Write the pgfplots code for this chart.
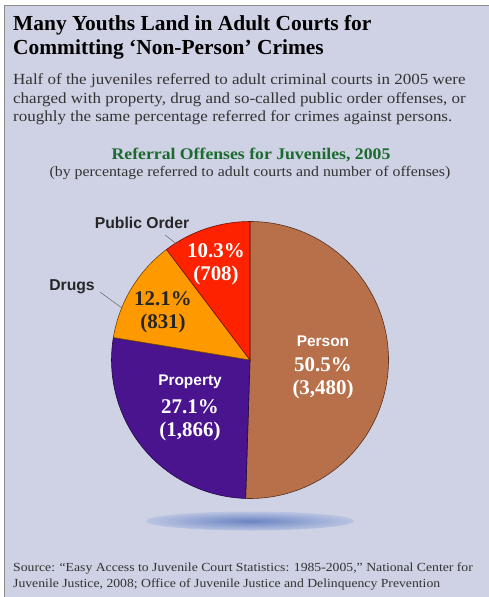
\documentclass[border=0pt]{standalone}
\usepackage{pgfplots}
\pgfplotsset{compat=1.18}
\usepackage{pgfplotstable}
\usepackage{fontspec}
\setmainfont{Liberation Serif}
\newfontfamily\labelsans{Liberation Sans}
\definecolor{bg}{HTML}{CED2E4}
\definecolor{slice0}{HTML}{B8704A}
\definecolor{slice1}{HTML}{4A148E}
\definecolor{slice2}{HTML}{FF9900}
\definecolor{slice3}{HTML}{FF2200}
\definecolor{ttlgreen}{HTML}{1B6B2E}
\definecolor{txt}{HTML}{333333}
\definecolor{shadein}{HTML}{6A84C2}
\definecolor{shadeout}{HTML}{BAC4E2}
\pgfplotstableread{
label pct count
Person 50.5 3480
Property 27.1 1866
Drugs 12.1 831
PublicOrder 10.3 708
}\piedata
\newcommand\para[1]{\scalebox{1.10}[1]{#1}}
\begin{document}
\begin{tikzpicture}[x=1bp,y=1bp]
\useasboundingbox (0,0) rectangle (489,-597);
\fill[white] (0,0) rectangle (489,-597);
\fill[bg] (4,-5) rectangle (489,-597);
\draw[black!45,line width=1.2bp] (4.5,-597) -- (4.5,-5.5) -- (489,-5.5);
% shadow
\shade[inner color=shadein, outer color=shadeout] (250,-521) ellipse [x radius=104, y radius=9.5];
% titles
\node[anchor=base west,font=\fontsize{21.5}{24}\selectfont\bfseries,inner sep=0] at (13,-31) {Many Youths Land in Adult Courts for};
\node[anchor=base west,font=\fontsize{21.5}{24}\selectfont\bfseries,inner sep=0] at (13,-55) {Committing ‘Non-Person’ Crimes};
\node[anchor=base west,font=\fontsize{15.5}{16}\selectfont,text=txt,inner sep=0] at (13,-85) {\para{Half of the juveniles referred to adult criminal courts in 2005 were}};
\node[anchor=base west,font=\fontsize{15.5}{16}\selectfont,text=txt,inner sep=0] at (13,-103.5) {\para{charged with property, drug and so-called public order offenses, or}};
\node[anchor=base west,font=\fontsize{15.5}{16}\selectfont,text=txt,inner sep=0] at (13,-122) {\para{roughly the same percentage referred for crimes against persons.}};
\node[anchor=base,font=\fontsize{16.3}{16}\selectfont\bfseries,text=ttlgreen,inner sep=0] at (251,-160) {\scalebox{1.09}[1]{Referral Offenses for Juveniles, 2005}};
\node[anchor=base,font=\fontsize{14.6}{14}\selectfont,text=txt,inner sep=0] at (250,-177) {\scalebox{1.09}[1]{(by percentage referred to adult courts and number of offenses)}};
\node[anchor=base west,font=\fontsize{12.4}{14}\selectfont,text=txt,inner sep=0] at (13,-571) {\scalebox{1.11}[1]{Source: “Easy Access to Juvenile Court Statistics: 1985-2005,” National Center for}};
\node[anchor=base west,font=\fontsize{12.4}{14}\selectfont,text=txt,inner sep=0] at (13,-587) {\scalebox{1.11}[1]{Juvenile Justice, 2008; Office of Juvenile Justice and Delinquency Prevention}};
% pie
\begin{axis}[hide axis, x=138.5bp, y=138.5bp, xmin=-1.05, xmax=1.05, ymin=-1.05, ymax=1.05,
  anchor=center, at={(250bp,-360bp)}, clip=false]
\def\cum{0}
\pgfplotsforeachungrouped \i in {0,...,3}{%
  \pgfplotstablegetelem{\i}{pct}\of\piedata
  \let\p=\pgfplotsretval
  \pgfmathsetmacro\a{90-3.6*\cum}%
  \pgfmathsetmacro\b{90-3.6*(\cum+\p)}%
  \pgfmathsetmacro\ca{cos(\a)}%
  \pgfmathsetmacro\sa{sin(\a)}%
  \pgfmathsetmacro\cum{\cum+\p}%
  \edef\cmd{\noexpand\filldraw[fill=slice\i, draw=black!55!slice\i, line width=0.6bp] (axis cs:0,0) -- (axis cs:\ca,\sa) arc[start angle=\a, end angle=\b, radius=138.5bp] -- cycle;}%
  \cmd
}
\end{axis}
% leader lines
\draw[black!60,line width=0.5bp] (165,-235) -- (178,-245);
\draw[black!60,line width=0.5bp] (100,-292) -- (122,-308);
% outside labels
\node[font=\labelsans\fontsize{15.8}{16}\selectfont\bfseries,text=black!85] at (142,-223) {Public Order};
\node[font=\labelsans\fontsize{15.8}{16}\selectfont\bfseries,text=black!85] at (72,-287) {Drugs};
% inside labels
\node[font=\fontsize{21}{22}\selectfont\bfseries,text=white,align=center,inner sep=0] at (216,-264) {10.3\%\\[1bp](708)};
\node[font=\fontsize{21}{22}\selectfont\bfseries,text=black!85,align=center,inner sep=0] at (163,-312) {12.1\%\\[1bp](831)};
\node[font=\labelsans\fontsize{15.5}{16}\selectfont\bfseries,text=white,inner sep=0] at (323,-341) {Person};
\node[font=\fontsize{21}{22}\selectfont\bfseries,text=white,align=center,inner sep=0] at (323,-378) {50.5\%\\[1bp](3,480)};
\node[font=\labelsans\fontsize{15.5}{16}\selectfont\bfseries,text=white,inner sep=0] at (190,-382) {Property};
\node[font=\fontsize{21}{22}\selectfont\bfseries,text=white,align=center,inner sep=0] at (190,-420) {27.1\%\\[1bp](1,866)};
\end{tikzpicture}
\end{document}
